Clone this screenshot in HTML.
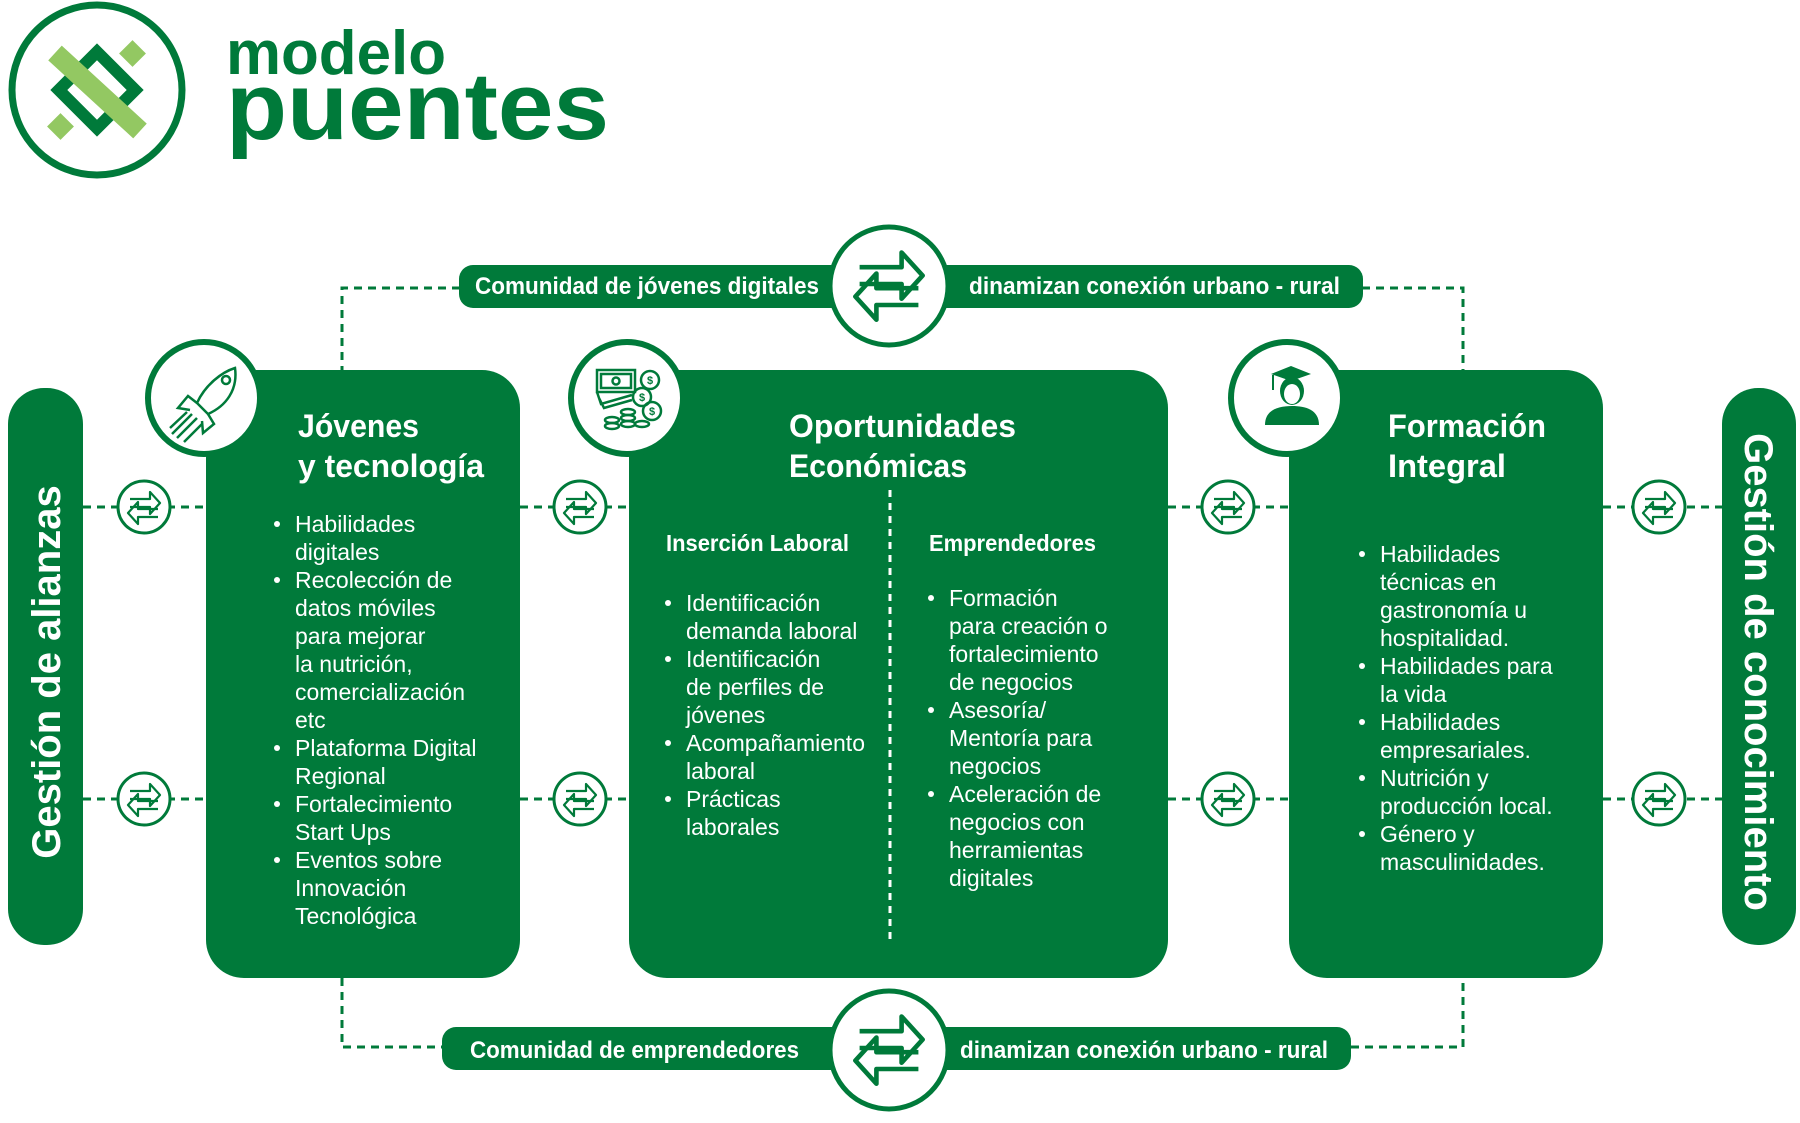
<!DOCTYPE html>
<html><head><meta charset="utf-8">
<style>
html,body{margin:0;padding:0;background:#fff;}
svg{display:block;}
.t{font-family:"Liberation Sans Narrow","Liberation Sans",sans-serif;}
</style></head>
<body>
<svg width="1800" height="1123" viewBox="0 0 1800 1123" xmlns="http://www.w3.org/2000/svg">
<defs>
<g id="arr">
<path d="M-14,-8 H6 V-15 L16,-4 L6,7 V0 H-14" fill="none" stroke="#007a3a" stroke-width="2.2" stroke-linejoin="round"/>
<path d="M14,2 H-6 V-5 L-16,6 L-6,17 V10 H14" fill="none" stroke="#007a3a" stroke-width="2.2" stroke-linejoin="round"/>
</g>
</defs>

<!-- logo -->
<g>
<circle cx="97" cy="90" r="85" fill="#fff" stroke="#007a3a" stroke-width="7"/>
<rect x="70" y="63" width="54" height="54" transform="rotate(45 97 90)" fill="none" stroke="#007a3a" stroke-width="12"/>
<line x1="55" y1="53" x2="140" y2="131" stroke="#93c862" stroke-width="20"/>
<rect x="123" y="44" width="19" height="19" transform="rotate(45 132.5 53.5)" fill="#93c862"/>
<rect x="51" y="117" width="19" height="19" transform="rotate(45 60.5 126.5)" fill="#93c862"/>
</g>
<text x="226" y="74" font-size="62" font-weight="bold" fill="#007a3a" style="font-family:'Liberation Sans',sans-serif" textLength="220" lengthAdjust="spacingAndGlyphs">modelo</text>
<text x="226" y="139" font-size="96" font-weight="bold" fill="#007a3a" style="font-family:'Liberation Sans',sans-serif" textLength="383" lengthAdjust="spacingAndGlyphs">puentes</text>

<!-- dashed connectors -->
<g stroke="#007a3a" stroke-width="3" stroke-dasharray="8,6" fill="none">
<polyline points="460,288 342,288 342,370"/>
<polyline points="1362,288 1463,288 1463,370"/>
<polyline points="342,978 342,1047 442,1047"/>
<polyline points="1351,1047 1463,1047 1463,978"/>
<line x1="83" y1="507" x2="206" y2="507"/><line x1="83" y1="799" x2="206" y2="799"/>
<line x1="520" y1="507" x2="629" y2="507"/><line x1="520" y1="799" x2="629" y2="799"/>
<line x1="1168" y1="507" x2="1289" y2="507"/><line x1="1168" y1="799" x2="1289" y2="799"/>
<line x1="1603" y1="507" x2="1722" y2="507"/><line x1="1603" y1="799" x2="1722" y2="799"/>
</g>

<!-- top pill -->
<rect x="459" y="265" width="904" height="43" rx="14" fill="#007a3a"/>
<text x="475" y="294" class="t" font-size="24" font-weight="bold" fill="#fff" textLength="344" lengthAdjust="spacingAndGlyphs">Comunidad de jóvenes digitales</text>
<text x="969" y="294" class="t" font-size="24" font-weight="bold" fill="#fff" textLength="371" lengthAdjust="spacingAndGlyphs">dinamizan conexión urbano - rural</text>
<g>
<circle cx="889" cy="286" r="59" fill="#fff" stroke="#007a3a" stroke-width="5"/>
<g transform="translate(889,284) scale(2.1)"><use href="#arr"/></g>
</g>

<!-- bottom pill -->
<rect x="442" y="1027" width="909" height="43" rx="14" fill="#007a3a"/>
<text x="470" y="1058" class="t" font-size="24" font-weight="bold" fill="#fff" textLength="329" lengthAdjust="spacingAndGlyphs">Comunidad de emprendedores</text>
<text x="960" y="1058" class="t" font-size="24" font-weight="bold" fill="#fff" textLength="368" lengthAdjust="spacingAndGlyphs">dinamizan conexión urbano - rural</text>
<g>
<circle cx="889" cy="1050" r="59" fill="#fff" stroke="#007a3a" stroke-width="5"/>
<g transform="translate(889,1048) scale(2.1)"><use href="#arr"/></g>
</g>

<!-- side bars -->
<rect x="8" y="388" width="75" height="557" rx="36" fill="#007a3a"/>
<text transform="translate(60,672) rotate(-90)" text-anchor="middle" font-size="40" font-weight="bold" fill="#fff" style="font-family:'Liberation Sans',sans-serif">Gestión de alianzas</text>
<rect x="1722" y="388" width="74" height="557" rx="36" fill="#007a3a"/>
<text transform="translate(1745,672) rotate(90)" text-anchor="middle" font-size="40" font-weight="bold" fill="#fff" style="font-family:'Liberation Sans',sans-serif">Gestión de conocimiento</text>

<!-- boxes -->
<rect x="206" y="370" width="314" height="608" rx="38" fill="#007a3a"/>
<rect x="629" y="370" width="539" height="608" rx="38" fill="#007a3a"/>
<rect x="1289" y="370" width="314" height="608" rx="38" fill="#007a3a"/>
<line x1="890" y1="490" x2="890" y2="945" stroke="#fff" stroke-width="3" stroke-dasharray="7,6"/>

<!-- icon circles -->
<g>
<circle cx="204" cy="398" r="56" fill="#fff" stroke="#007a3a" stroke-width="6"/>
<g fill="none" stroke="#007a3a" stroke-width="2.5">
<path d="M235,368 C222,372 205,385 197,403 L208,414 C226,406 238,390 235,368 Z"/>
<circle cx="226" cy="380" r="4"/>
<path d="M197,403 L188,396 L178,408 L190,410"/><path d="M208,414 L214,424 L203,433 L202,421"/>
<path d="M192,414 L172,434 M197,418 L177,438 M187,412 L170,428 M202,424 L184,442"/>
</g></g>
<g>
<circle cx="627" cy="398" r="56" fill="#fff" stroke="#007a3a" stroke-width="6"/>
<g fill="none" stroke="#007a3a" stroke-width="2.5">
<rect x="597" y="370" width="38" height="22"/><rect x="601" y="374" width="30" height="14"/><circle cx="616" cy="381" r="3.5"/>
<path d="M597,392 L601,404 L632,395 M599,398 L604,408 L632,400"/>
<circle cx="650" cy="380" r="9"/><circle cx="642" cy="397" r="9"/><circle cx="652" cy="411" r="9"/>
<ellipse cx="628" cy="412" rx="7" ry="3"/><ellipse cx="628" cy="418" rx="7" ry="3"/><ellipse cx="628" cy="424" rx="7" ry="3"/>
<ellipse cx="612" cy="420" rx="7" ry="3"/><ellipse cx="612" cy="426" rx="7" ry="3"/><ellipse cx="642" cy="424" rx="7" ry="3"/>
</g>
<text x="650" y="384" font-size="11" font-weight="bold" fill="#007a3a" text-anchor="middle" style="font-family:'Liberation Sans',sans-serif">$</text>
<text x="642" y="401" font-size="11" font-weight="bold" fill="#007a3a" text-anchor="middle" style="font-family:'Liberation Sans',sans-serif">$</text>
<text x="652" y="415" font-size="11" font-weight="bold" fill="#007a3a" text-anchor="middle" style="font-family:'Liberation Sans',sans-serif">$</text>
</g>
<g>
<circle cx="1287" cy="398" r="56" fill="#fff" stroke="#007a3a" stroke-width="6"/>
<path d="M1271,374 L1291,366 L1311,374 L1291,381 Z" fill="#007a3a"/>
<line x1="1273" y1="375" x2="1273" y2="390" stroke="#007a3a" stroke-width="2"/>
<ellipse cx="1292" cy="391" rx="12" ry="14" fill="#007a3a"/>
<ellipse cx="1292" cy="394" rx="8" ry="10" fill="#fff"/>
<path d="M1265,425 C1265,410 1278,406 1292,406 C1306,406 1319,410 1319,425 Z" fill="#007a3a"/>
</g>

<!-- small exchange circles -->
<g>
<g transform="translate(144,507)"><circle r="26" fill="#fff" stroke="#007a3a" stroke-width="3"/><use href="#arr"/></g>
<g transform="translate(144,799)"><circle r="26" fill="#fff" stroke="#007a3a" stroke-width="3"/><use href="#arr"/></g>
<g transform="translate(580,507)"><circle r="26" fill="#fff" stroke="#007a3a" stroke-width="3"/><use href="#arr"/></g>
<g transform="translate(580,799)"><circle r="26" fill="#fff" stroke="#007a3a" stroke-width="3"/><use href="#arr"/></g>
<g transform="translate(1228,507)"><circle r="26" fill="#fff" stroke="#007a3a" stroke-width="3"/><use href="#arr"/></g>
<g transform="translate(1228,799)"><circle r="26" fill="#fff" stroke="#007a3a" stroke-width="3"/><use href="#arr"/></g>
<g transform="translate(1659,507)"><circle r="26" fill="#fff" stroke="#007a3a" stroke-width="3"/><use href="#arr"/></g>
<g transform="translate(1659,799)"><circle r="26" fill="#fff" stroke="#007a3a" stroke-width="3"/><use href="#arr"/></g>
</g>

<!-- titles -->
<text class="t" font-size="32" font-weight="bold" fill="#fff"><tspan x="298" y="437" textLength="121" lengthAdjust="spacingAndGlyphs">Jóvenes</tspan><tspan x="298" y="477" textLength="186" lengthAdjust="spacingAndGlyphs">y tecnología</tspan></text>
<text class="t" font-size="32" font-weight="bold" fill="#fff"><tspan x="789" y="437" textLength="227" lengthAdjust="spacingAndGlyphs">Oportunidades</tspan><tspan x="789" y="477" textLength="178" lengthAdjust="spacingAndGlyphs">Económicas</tspan></text>
<text class="t" font-size="32" font-weight="bold" fill="#fff"><tspan x="1388" y="437" textLength="158" lengthAdjust="spacingAndGlyphs">Formación</tspan><tspan x="1388" y="477" textLength="118" lengthAdjust="spacingAndGlyphs">Integral</tspan></text>
<text x="666" y="551" class="t" font-size="23" font-weight="bold" fill="#fff" textLength="183" lengthAdjust="spacingAndGlyphs">Inserción Laboral</text>
<text x="929" y="551" class="t" font-size="23" font-weight="bold" fill="#fff" textLength="167" lengthAdjust="spacingAndGlyphs">Emprendedores</text>

<g id="lists"></g>
</svg>
<script>
const list1 = ["•Habilidades","digitales","•Recolección de","datos móviles","para mejorar","la nutrición,","comercialización","etc","•Plataforma Digital","Regional","•Fortalecimiento","Start Ups","•Eventos sobre","Innovación","Tecnológica"];
const list2 = ["•Identificación","demanda laboral","•Identificación","de perfiles de","jóvenes","•Acompañamiento","laboral","•Prácticas","laborales"];
const list3 = ["•Formación","para creación o","fortalecimiento","de negocios","•Asesoría/","Mentoría para","negocios","•Aceleración de","negocios con","herramientas","digitales"];
const list4 = ["•Habilidades","técnicas en","gastronomía u","hospitalidad.","•Habilidades para","la vida","•Habilidades","empresariales.","•Nutrición y","producción local.","•Género y","masculinidades."];
const NS = "http://www.w3.org/2000/svg";
const g = document.getElementById('lists');
function draw(items, bx, tx, y0){
  items.forEach((s,i)=>{
    const y = y0 + i*28;
    const bullet = s.startsWith('•');
    const t = document.createElementNS(NS,'text');
    t.setAttribute('x', tx); t.setAttribute('y', y);
    t.setAttribute('class','t'); t.setAttribute('font-size','23'); t.setAttribute('fill','#fff');
    t.textContent = bullet ? s.slice(1) : s;
    
    
    g.appendChild(t);
    if(bullet){
      const c = document.createElementNS(NS,'circle');
      c.setAttribute('cx', bx); c.setAttribute('cy', y-8); c.setAttribute('r', 3); c.setAttribute('fill','#fff');
      
      
      g.appendChild(c);
    }
  });
}
draw(list1, 277, 295, 532);
draw(list2, 668, 686, 611);
draw(list3, 931, 949, 606);
draw(list4, 1362, 1380, 562);
</script>
</body></html>
